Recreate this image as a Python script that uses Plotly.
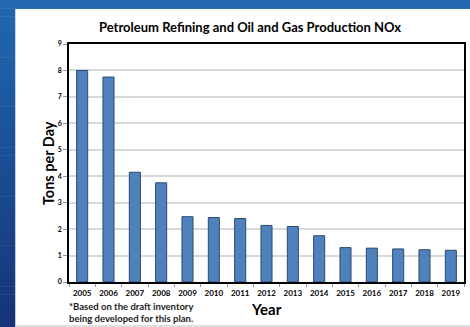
import plotly.graph_objects as go

# Annual NOx emissions, petroleum refining + oil & gas production
years = ["2005", "2006", "2007", "2008", "2009", "2010", "2011", "2012",
         "2013", "2014", "2015", "2016", "2017", "2018", "2019"]
tons_per_day = [8.0, 7.75, 4.15, 3.75, 2.47, 2.44, 2.40, 2.14,
                2.10, 1.75, 1.30, 1.28, 1.25, 1.22, 1.20]
y_ticks = list(range(0, 10))

W, H = 470, 327
FONT = "Lato"

fig = go.Figure()
fig.add_trace(go.Bar(
    x=years, y=tons_per_day,
    marker=dict(color="#4F81BD", line=dict(color="#2B4A70", width=1)),
    width=0.42,
))

# pixel -> paper coordinate helpers
l, r, t, b = 69, 4, 44, 45
pw, ph = W - l - r, H - t - b
def px(x):
    return (x - l) / pw
def py(y):
    return (H - b - y) / ph

# blue gradient backdrop, then a white card on top of it
shapes = []
n = 40
top_rgb = (33, 104, 176)
bot_rgb = (22, 52, 120)
for i in range(n):
    f = i / (n - 1)
    c = tuple(int(top_rgb[k] + (bot_rgb[k] - top_rgb[k]) * f) for k in range(3))
    shapes.append(dict(type="rect", xref="paper", yref="paper", layer="below",
                       x0=px(-5), x1=px(W + 5),
                       y0=py(H * (i + 1) / n + 0.5), y1=py(H * i / n),
                       line=dict(width=0), fillcolor="rgb(%d,%d,%d)" % c))
shapes.append(dict(type="rect", xref="paper", yref="paper", layer="below",
                   x0=px(15), x1=px(W + 30), y0=py(H + 5), y1=py(9),
                   line=dict(width=0), fillcolor="white"))
shapes.append(dict(type="line", xref="paper", yref="paper", layer="below",
                   x0=px(15), x1=px(W + 30), y0=py(326), y1=py(326),
                   line=dict(color="#BFBFBF", width=1)))

annotations = [
    dict(text="<b>Petroleum Refining and Oil and Gas Production NOx</b>",
         xref="paper", yref="paper", x=px(251), y=py(27), showarrow=False,
         xanchor="center", yanchor="middle",
         font=dict(family=FONT, size=13, color="black")),
    dict(text="<b>Tons per Day</b>", textangle=-90,
         xref="paper", yref="paper", x=px(48), y=py(163), showarrow=False,
         xanchor="center", yanchor="middle",
         font=dict(family=FONT, size=14.5, color="black")),
    dict(text="<b>Year</b>",
         xref="paper", yref="paper", x=px(267), y=py(309), showarrow=False,
         xanchor="center", yanchor="middle",
         font=dict(family=FONT, size=15, color="black")),
    dict(text="<b>*Based on the draft inventory<br>being developed for this plan.</b>",
         xref="paper", yref="paper", x=px(67), y=py(312), showarrow=False,
         xanchor="left", yanchor="middle", align="left",
         font=dict(family=FONT, size=9.5, color="#222222")),
]

fig.update_layout(
    width=W, height=H,
    margin=dict(l=l, r=r, t=t, b=b),
    paper_bgcolor="white",
    plot_bgcolor="white",
    showlegend=False,
    shapes=shapes,
    annotations=annotations,
    bargap=0.58,
    xaxis=dict(
        type="category", showline=True, mirror=True, linecolor="black",
        linewidth=1.5, ticks="outside", tickson="boundaries", ticklen=3,
        tickcolor="#999999", showgrid=False, tickangle=0,
        ticklabelstandoff=3,
        tickfont=dict(family=FONT, size=8, color="black", weight="bold"),
    ),
    yaxis=dict(
        range=[0, 9], tickvals=y_ticks, showline=True, mirror=True,
        linecolor="black", linewidth=1.5, ticks="outside", ticklen=4,
        tickcolor="#999999", gridcolor="#D9D9D9", gridwidth=1.5,
        zeroline=False,
        tickfont=dict(family=FONT, size=7, color="black", weight="bold"),
    ),
)

fig.write_html("out.html")
